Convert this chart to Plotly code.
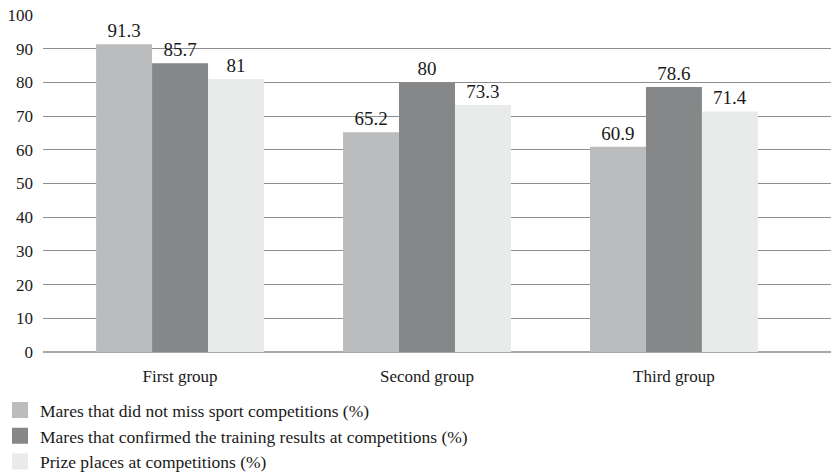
import plotly.graph_objects as go

groups = ["First group", "Second group", "Third group"]
series_names = [
    "Mares that did not miss sport competitions (%)",
    "Mares that confirmed the training results at competitions (%)",
    "Prize places at competitions (%)",
]
not_missed = [91.3, 65.2, 60.9]
confirmed = [85.7, 80, 78.6]
prize_places = [81, 73.3, 71.4]
y_ticks = [0, 10, 20, 30, 40, 50, 60, 70, 80, 90, 100]

colors = ["#bbbcbe", "#868788", "#e9eaea"]
serif = "Liberation Serif, Times New Roman, serif"
ink = "#1a1a1a"

fig = go.Figure()
for i, (name, vals) in enumerate(zip(series_names, [not_missed, confirmed, prize_places])):
    fig.add_trace(go.Bar(
        x=groups, y=vals, name=name,
        marker=dict(color=colors[i], line=dict(width=0)),
        text=[f"{v:g}" for v in vals],
        textposition="outside",
        textfont=dict(family=serif, size=19, color=ink),
        cliponaxis=False,
        showlegend=False,
    ))

# legend keys: larger square swatches than the default bar key
for i, name in enumerate(series_names):
    fig.add_trace(go.Scatter(
        x=[None], y=[None], mode="markers", name=name,
        marker=dict(symbol="square", size=16, color=colors[i], line=dict(width=0)),
    ))

fig.update_layout(
    width=831, height=476,
    margin=dict(l=43, r=0, t=15, b=124, autoexpand=False),
    paper_bgcolor="white", plot_bgcolor="white",
    barmode="group", bargap=0.32, bargroupgap=0,
    font=dict(family=serif, size=17, color=ink),
    showlegend=True,
    legend=dict(
        xref="container", yref="container",
        x=0.0, y=0.176, xanchor="left", yanchor="top",
        orientation="v",
        font=dict(family=serif, size=17.5, color=ink),
        itemclick=False, bgcolor="rgba(0,0,0,0)",
    ),
    xaxis=dict(
        range=[-0.555, 2.636], showgrid=False, zeroline=False,
        showline=False, ticks="", ticklabelstandoff=12,
        tickfont=dict(family=serif, size=17, color=ink),
    ),
    yaxis=dict(
        range=[0, 100], tickvals=y_ticks,
        showgrid=True, gridcolor="#8e8e8e", gridwidth=1,
        zeroline=True, zerolinecolor="#a8a8a8", zerolinewidth=2,
        showline=False, ticks="", ticklabelstandoff=9,
        tickfont=dict(family=serif, size=17, color=ink),
    ),
)

fig.write_html("out.html")
